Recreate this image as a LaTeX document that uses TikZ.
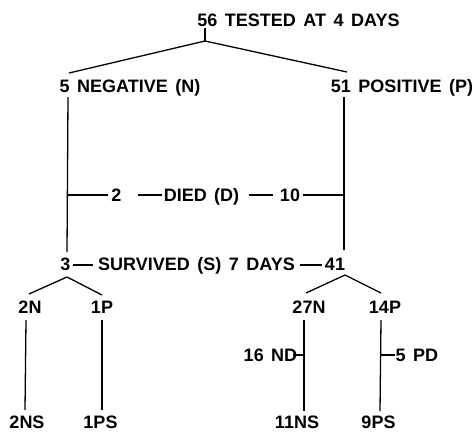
\documentclass[tikz,border=0pt]{standalone}
\usepackage{fontspec}
\setmainfont{Liberation Sans}[WordSpace=1.5]
\begin{document}
\begin{tikzpicture}[x=1pt,y=-1pt,line width=1.3pt,
  lbl/.style={inner sep=0pt,anchor=base,font=\fontsize{18}{18}\selectfont\bfseries}]
\useasboundingbox (0,0) rectangle (474,432);
% labels
\node[lbl] (top)  at (298.5,26) {56 TESTED AT 4 DAYS};
\node[lbl] (neg)  at (130,92) {5 NEGATIVE (N)};
\node[lbl] (pos)  at (402,92) {51 POSITIVE (P)};
\node[lbl] (d2)   at (116.5,201) {2};
\node[lbl] (died) at (201.5,201) {DIED (D)};
\node[lbl] (d10)  at (290,201) {10};
\node[lbl] (s3)   at (65.5,270.5) {3};
\node[lbl] (surv) at (196.5,270.5) {SURVIVED (S) 7 DAYS};
\node[lbl] (s41)  at (335,270.5) {41};
\node[lbl] (n2)   at (30,313.5) {2N};
\node[lbl] (p1)   at (102,313.5) {1P};
\node[lbl] (n27)  at (309,313.5) {27N};
\node[lbl] (p14)  at (385,313.5) {14P};
\node[lbl] (nd16) at (270.5,361.5) {16 ND};
\node[lbl] (pd5)  at (417,361.5) {5 PD};
\node[lbl] (ns2)  at (27,428) {2NS};
\node[lbl] (ps1)  at (100.5,428) {1PS};
\node[lbl] (ns11) at (297,428) {11NS};
\node[lbl] (ps9)  at (378.5,428) {9PS};
% coordinates
\coordinate (tj0) at (205,28);
\coordinate (tj) at (205,41);
\coordinate (nl) at (69,73);
\coordinate (pl) at (347,72);
\coordinate (lv0) at (68,97);
\coordinate (lv1) at (67,252);
\coordinate (rv0) at (344,97);
\coordinate (rv1) at (344,250);
\coordinate (dA) at (67,195);  \coordinate (dB) at (108,195);
\coordinate (dC) at (138,195); \coordinate (dD) at (162,195);
\coordinate (dE) at (249,195); \coordinate (dF) at (273,195);
\coordinate (dG) at (303,195); \coordinate (dH) at (344,195);
\coordinate (sA) at (73,265);  \coordinate (sB) at (93,265);
\coordinate (sC) at (300,265); \coordinate (sD) at (322,265);
\coordinate (b3) at (67,277);
\coordinate (b3l) at (29,294);
\coordinate (b3r) at (102,295);
\coordinate (b41) at (345,275);
\coordinate (b41l) at (306,293);
\coordinate (b41r) at (381,293);
\coordinate (v1a) at (26,320);  \coordinate (v1b) at (25,410);
\coordinate (v2a) at (102,320); \coordinate (v2b) at (102,410);
\coordinate (v3a) at (304,320); \coordinate (v3b) at (304,411);
\coordinate (v4a) at (381,320); \coordinate (v4b) at (380,411);
\coordinate (t1a) at (293,355); \coordinate (t1b) at (304,355);
\coordinate (t2a) at (381,355); \coordinate (t2b) at (395,355);
% lines
\draw (tj0) -- (tj);
\draw (nl) -- (tj) -- (pl);
\draw (lv0) -- (lv1);
\draw (rv0) -- (rv1);
\draw (dA) -- (dB);
\draw (dC) -- (dD);
\draw (dE) -- (dF);
\draw (dG) -- (dH);
\draw (sA) -- (sB);
\draw (sC) -- (sD);
\draw (b3l) -- (b3) -- (b3r);
\draw (b41l) -- (b41) -- (b41r);
\draw (v1a) -- (v1b);
\draw (v2a) -- (v2b);
\draw (v3a) -- (v3b);
\draw (v4a) -- (v4b);
\draw (t1a) -- (t1b);
\draw (t2a) -- (t2b);
\end{tikzpicture}
\end{document}
